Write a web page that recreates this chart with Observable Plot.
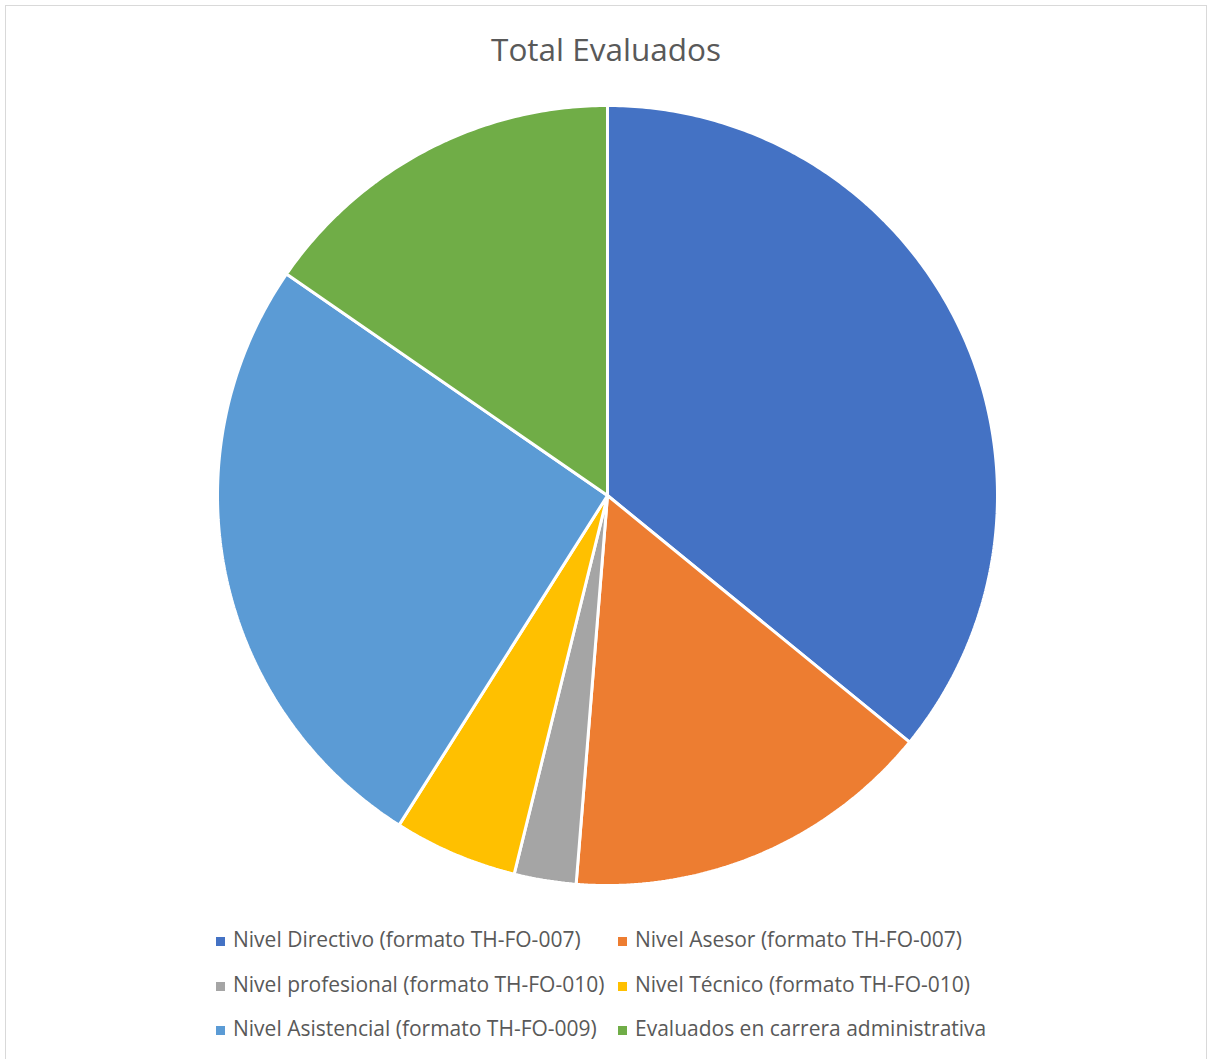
<!DOCTYPE html>
<html>
<head>
<meta charset="utf-8">
<script src="https://cdn.jsdelivr.net/npm/d3@7"></script>
<script src="https://cdn.jsdelivr.net/npm/@observablehq/plot@0.6"></script>
<style>
  html, body { margin: 0; padding: 0; background: #fff; }
  #frame { position: relative; width: 1208px; height: 1059px; overflow: hidden; font-family: "Open Sans", "Liberation Sans", sans-serif; color: #595959; }
  #border { position: absolute; left: 5px; top: 5px; width: 1202px; height: 1070px; border: 1.5px solid #d9d9d9; box-sizing: border-box; }
  #title { position: absolute; left: 0; width: 1212px; top: 27px; text-align: center; font-size: 31.5px; color: #595959; }
  #chart { position: absolute; left: 0; top: 95px; }
  .leg { position: absolute; font-size: 21px; white-space: nowrap; line-height: 1; }
  .sw { position: absolute; width: 9px; height: 9px; }
</style>
</head>
<body>
<div id="frame">
  <div id="border"></div>
  <div id="title">Total Evaluados</div>
  <div id="chart"></div>
  <div id="legend"></div>
</div>
<script>
const categories = [
  "Nivel Directivo (formato TH-FO-007)",
  "Nivel Asesor (formato TH-FO-007)",
  "Nivel profesional (formato TH-FO-010)",
  "Nivel Técnico (formato TH-FO-010)",
  "Nivel Asistencial (formato TH-FO-009)",
  "Evaluados en carrera administrativa"
];
const values = [14, 6, 1, 2, 10, 6];
const colors = ["#4472C4", "#ED7D31", "#A5A5A5", "#FFC000", "#5B9BD5", "#70AD47"];

// Build slice outlines (unit circle) from the values via d3.pie
const arcs = d3.pie().sort(null).value((d) => d.value)(categories.map((c, i) => ({category: c, value: values[i]})));
const pts = [];
for (const a of arcs) {
  const cat = a.data.category;
  pts.push({category: cat, x: 0, y: 0});
  const n = Math.max(8, Math.ceil((a.endAngle - a.startAngle) / 0.01));
  for (let k = 0; k <= n; k++) {
    const t = a.startAngle + (a.endAngle - a.startAngle) * k / n;
    pts.push({category: cat, x: Math.sin(t), y: Math.cos(t)});
  }
  pts.push({category: cat, x: 0, y: 0});
}

const W = 1208, H = 800, R = 390, cx = 607;
const plot = Plot.plot({
  width: W,
  height: H,
  marginLeft: cx - R,
  marginRight: W - cx - R,
  marginTop: H / 2 - R,
  marginBottom: H / 2 - R,
  x: {domain: [-1, 1], axis: null},
  y: {domain: [-1, 1], axis: null},
  color: {domain: categories, range: colors},
  marks: [
    Plot.line(pts, {x: "x", y: "y", z: "category", fill: "category", stroke: "white", strokeWidth: 3, strokeLinejoin: "miter", curve: "linear"})
  ]
});
document.getElementById("chart").appendChild(plot);

// Legend
const legend = document.getElementById("legend");
const colX = [216, 618];
const rowY = [941, 986, 1030];
categories.forEach((c, i) => {
  const col = i % 2, row = Math.floor(i / 2);
  const sw = document.createElement("div");
  sw.className = "sw";
  sw.style.left = colX[col] + "px";
  sw.style.top = (rowY[row] - 4.5) + "px";
  sw.style.background = colors[i];
  legend.appendChild(sw);
  const t = document.createElement("div");
  t.className = "leg";
  t.style.left = (colX[col] + 17) + "px";
  t.style.top = (rowY[row] - 12) + "px";
  t.textContent = c;
  legend.appendChild(t);
});
</script>
</body>
</html>
